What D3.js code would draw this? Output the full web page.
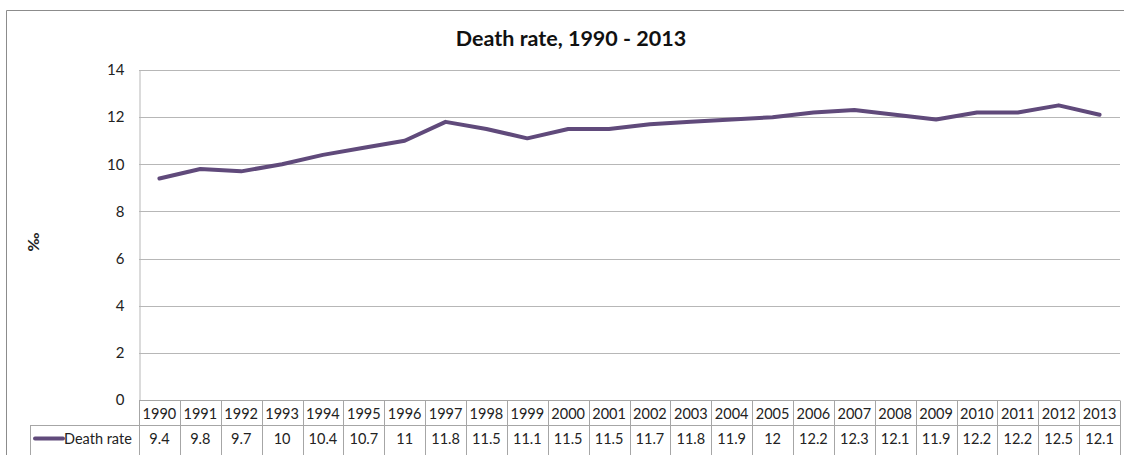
<!DOCTYPE html>
<html>
<head>
<meta charset="utf-8">
<script src="https://cdn.jsdelivr.net/npm/d3@7"></script>
<style>
  body { margin: 0; background: #fff; }
  svg { display: block; font-family: Lato, "Open Sans", sans-serif; }
</style>
</head>
<body>
<div id="chart"></div>
<script>
// Data
const years = ["1990", "1991", "1992", "1993", "1994", "1995", "1996", "1997", "1998", "1999", "2000", "2001",
  "2002", "2003", "2004", "2005", "2006", "2007", "2008", "2009", "2010", "2011", "2012", "2013"];
const deathRate = [9.4, 9.8, 9.7, 10, 10.4, 10.7, 11, 11.8, 11.5, 11.1, 11.5, 11.5,
  11.7, 11.8, 11.9, 12, 12.2, 12.3, 12.1, 11.9, 12.2, 12.2, 12.5, 12.1];
const yTicks = [0, 2, 4, 6, 8, 10, 12, 14];
const seriesName = "Death rate";

const width = 1124;
const height = 455;
const plot = { left: 139, right: 1120, top: 70, bottom: 400 };
const rowH = 25;
const legendLeft = 30;
const lineColor = "#604a7b";
const gridColor = "#b7b7b7";
const tableColor = "#a6a6a6";
const labelSize = 14.5;

const svg = d3.select("#chart")
  .append("svg")
  .attr("width", width)
  .attr("height", height);

// Outer chart border (top and left edges show)
svg.append("path")
  .attr("d", `M6.5,${height + 2}V10.5H${width + 2}`)
  .attr("fill", "none")
  .attr("stroke", "#8c8c8c")
  .attr("stroke-width", 1);

// Scales
const x = d3.scaleBand()
  .domain(years)
  .range([plot.left, plot.right])
  .padding(0);

const y = d3.scaleLinear()
  .domain([0, 14])
  .range([plot.bottom, plot.top]);

// Gridlines
svg.append("g")
  .selectAll("line")
  .data(yTicks)
  .enter()
  .append("line")
  .attr("x1", plot.left)
  .attr("x2", plot.right)
  .attr("y1", d => Math.round(y(d)) + 0.5)
  .attr("y2", d => Math.round(y(d)) + 0.5)
  .attr("stroke", gridColor)
  .attr("stroke-width", 1);

// Y axis
const yAxis = svg.append("g")
  .attr("transform", `translate(${plot.left + 0.5},0)`)
  .call(d3.axisLeft(y).tickValues(yTicks).tickSize(0).tickPadding(15));
yAxis.select(".domain").attr("stroke", gridColor);
yAxis.selectAll("text")
  .attr("font-family", "Lato, sans-serif")
  .attr("font-size", 15)
  .attr("fill", "#222");

// Y axis label
svg.append("text")
  .attr("transform", "translate(39,242) rotate(-90)")
  .attr("text-anchor", "middle")
  .attr("font-size", 16)
  .attr("font-weight", "bold")
  .attr("fill", "#222")
  .text("‰");

// Title
svg.append("text")
  .attr("x", 571)
  .attr("y", 46)
  .attr("text-anchor", "middle")
  .attr("font-size", 21.5)
  .attr("font-weight", "bold")
  .attr("fill", "#111")
  .text("Death rate, 1990 - 2013");

// Line
const line = d3.line()
  .x((d, i) => x(years[i]) + x.bandwidth() / 2)
  .y(d => y(d));

svg.append("path")
  .datum(deathRate)
  .attr("d", line)
  .attr("fill", "none")
  .attr("stroke", lineColor)
  .attr("stroke-width", 4)
  .attr("stroke-linejoin", "round")
  .attr("stroke-linecap", "round");

// Data table under the plot
const table = svg.append("g");
const rowTop = plot.bottom + 0.5;
const rowMid = rowTop + rowH;

// horizontal lines of the table
table.append("line")
  .attr("x1", plot.left).attr("x2", plot.right)
  .attr("y1", rowTop).attr("y2", rowTop)
  .attr("stroke", tableColor);
table.append("line")
  .attr("x1", legendLeft).attr("x2", plot.right)
  .attr("y1", rowMid).attr("y2", rowMid)
  .attr("stroke", tableColor);

// vertical lines between year cells
const edges = years.map(d => x(d)).concat([plot.right]);
table.selectAll(".col-line")
  .data(edges)
  .enter()
  .append("line")
  .attr("class", "col-line")
  .attr("x1", d => Math.round(d) + 0.5)
  .attr("x2", d => Math.round(d) + 0.5)
  .attr("y1", rowTop)
  .attr("y2", height + 2)
  .attr("stroke", tableColor);

// legend cell left edge
table.append("line")
  .attr("x1", legendLeft + 0.5).attr("x2", legendLeft + 0.5)
  .attr("y1", rowMid).attr("y2", height + 2)
  .attr("stroke", tableColor);

// year labels
table.selectAll(".year")
  .data(years)
  .enter()
  .append("text")
  .attr("class", "year")
  .attr("x", d => x(d) + x.bandwidth() / 2)
  .attr("y", rowTop + 18)
  .attr("text-anchor", "middle")
  .attr("font-size", labelSize)
  .attr("fill", "#222")
  .text(d => d);

// values
table.selectAll(".val")
  .data(deathRate)
  .enter()
  .append("text")
  .attr("class", "val")
  .attr("x", (d, i) => x(years[i]) + x.bandwidth() / 2)
  .attr("y", rowMid + 18)
  .attr("text-anchor", "middle")
  .attr("font-size", labelSize)
  .attr("fill", "#222")
  .text(d => d);

// legend key
table.append("line")
  .attr("x1", 35).attr("x2", 63)
  .attr("y1", rowMid + 13).attr("y2", rowMid + 13)
  .attr("stroke", lineColor)
  .attr("stroke-width", 4)
  .attr("stroke-linecap", "round");

table.append("text")
  .attr("x", 64)
  .attr("y", rowMid + 18)
  .attr("font-size", labelSize)
  .attr("fill", "#222")
  .text(seriesName);
</script>
</body>
</html>
